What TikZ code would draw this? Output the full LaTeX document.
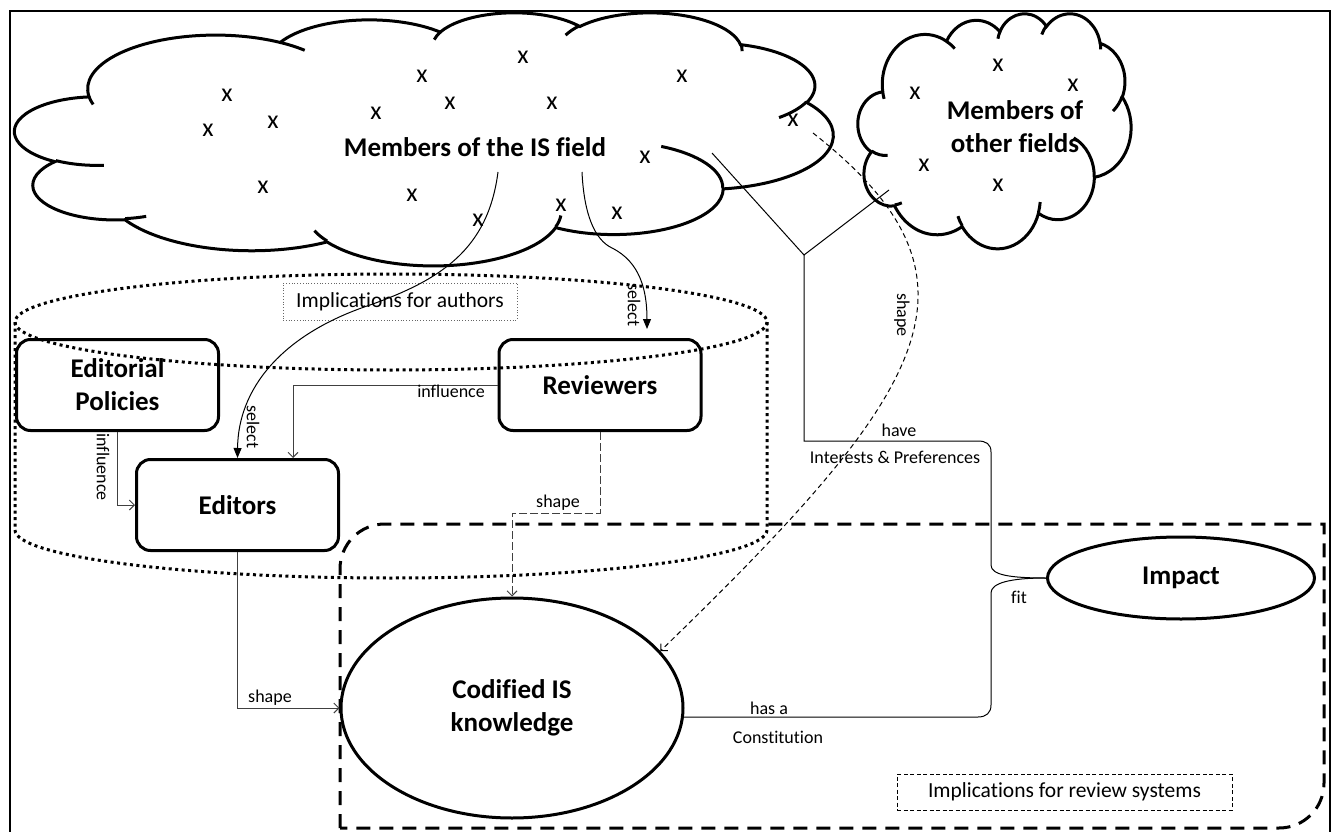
\documentclass[tikz,border=0pt]{standalone}
\usepackage{fontspec}
\setmainfont{Carlito}[Ligatures=NoCommon]
\usetikzlibrary{arrows.meta,shapes.geometric,calc}

\newcommand\nodefont{\fontsize{27}{33}\selectfont\bfseries}
\newcommand\lblfont{\fontsize{18}{21}\selectfont}
\newcommand\tagfont{\fontsize{21.5}{25}\selectfont}
\newcommand\xfont{\fontsize{26}{30}\selectfont}
% one lobe of the cloud outline (radii, start and sweep as seen angles)
\newcommand\cloudarc[4]{arc[x radius=#1, y radius=#2,
  start angle={atan2(#1*sin(#3),#2*cos(#3))},
  delta angle={mod(atan2(#1*sin(#3+#4),#2*cos(#3+#4))-atan2(#1*sin(#3),#2*cos(#3))+540,360)-180}]}

\tikzset{
  box/.style={draw, line width=3pt, rounded corners=14pt, minimum width=202pt,
    minimum height=91pt, align=center, font=\nodefont},
  oval/.style={draw, ellipse, line width=3pt, align=center, font=\nodefont, inner sep=0pt},
  lbl/.style={font=\lblfont, inner sep=1pt},
  tagbox/.style={draw, line width=0.8pt, font=\tagfont, inner sep=0pt},
  xmark/.style={font=\xfont, inner sep=0pt},
  cloudline/.style={line width=3pt},
  conn/.style={line width=1pt},
  grayconn/.style={line width=1pt, black!75},
  openarrow/.style={-{Straight Barb[length=5pt,width=10pt]}},
  selarrow/.style={conn, -{Triangle[length=10pt,width=8pt]}},
  dotline/.style={line width=3pt, dash pattern=on 3pt off 3.5pt},
  dashline/.style={line width=3pt, dash pattern=on 14pt off 9pt},
}

\begin{document}
\begin{tikzpicture}[x=1pt, y=-1pt]
  \useasboundingbox (0,0) rectangle (1334,832);
  \draw[line width=2pt] (10,11) rectangle (1330,845);

  % the two clouds
  \foreach \cx/\cy/\cw/\ch in {15/12/818/253, 858/13/273/235}{
    \begin{scope}[shift={(\cx,\cy)}, xscale=\cw/432, yscale=\ch/432]
      \draw[cloudline] (39.00,143.70)
        \cloudarc{67.53}{91.90}{-190.4875}{123.7805}
        \cloudarc{53.33}{72.67}{-144.1024}{89.9452}
        \cloudarc{43.65}{59.45}{-145.8079}{99.7230}
        \cloudarc{48.57}{65.95}{-130.9861}{117.2417}
        \cloudarc{53.33}{72.73}{-78.7089}{109.0269}
        \cloudarc{67.75}{92.20}{-46.2673}{130.2690}
        \cloudarc{57.85}{78.67}{0.6250}{114.0333}
        \cloudarc{67.52}{92.15}{22.4516}{115.1726}
        \cloudarc{77.20}{105.43}{66.2426}{75.7110}
        \cloudarc{43.60}{59.18}{-274.9421}{146.7356}
        \cloudarc{43.45}{59.45}{-246.8285}{152.5189} -- cycle;
      \draw[cloudline]
        (46.93,261.77) \cloudarc{43.45}{59.45}{86.7420}{26.4295}
        (69.28,348.99) \cloudarc{43.60}{59.18}{73.6105}{11.4475}
        (164.78,390.90) \cloudarc{67.52}{92.15}{137.6242}{14.0811}
        (288.27,347.51) \cloudarc{67.52}{92.15}{6.4533}{15.9984}
        (341.29,229.54) \cloudarc{57.85}{78.67}{-70.2924}{70.9174}
        (417.98,153.54) \cloudarc{53.33}{72.73}{30.3180}{27.7515}
        (383.24,54.26) \cloudarc{48.57}{65.95}{-13.7443}{14.8589}
        (290.78,39.52) \cloudarc{48.57}{65.95}{-149.1815}{18.1954}
        (221.41,47.20) \cloudarc{43.65}{59.45}{-163.4943}{17.6864}
        (140.00,51.92) \cloudarc{67.53}{91.90}{-66.7070}{12.3194}
        (41.27,157.89) \cloudarc{67.53}{91.90}{157.6544}{11.8582};
    \end{scope}
  }
  \node[font=\nodefont] (isfield) at (475,147) {Members of the IS field};
  \node[font=\nodefont, align=center] (otherfield) at (1015,127) {Members of\\other fields};
  \foreach \mx/\my [count=\i] in {227/95, 208/130, 273/122, 263/187, 376/113, 422/76,
      412/195, 450/103, 523/57, 552/103, 682/76, 793/120, 645/157, 478/220, 561/205,
      617/213, 998/65, 915/93, 1073/85, 924/165, 998/185}
    \node[xmark] (xm\i) at (\mx,\my) {x};

  % boxes and ovals
  \node[box] (epol) at (117.5,385) {Editorial\\Policies};
  \node[box] (editors) at (237.5,505) {Editors};
  \node[box] (reviewers) at (600,385) {Reviewers};
  \node[oval, minimum width=342pt, minimum height=220pt] (codified) at (512,708) {Codified IS\\knowledge};
  \node[oval, minimum width=267pt, minimum height=82pt] (impact) at (1181,578) {Impact};

  % implications for authors
  \draw[dotline] (391,322) ellipse[x radius=376, y radius=48];
  \draw[dotline] (15,322) -- (15,530) arc[start angle=180, end angle=0, x radius=376, y radius=48] -- (767,322);
  \node[tagbox, dotted, draw=black!60, minimum width=234pt, minimum height=37pt] (authtag) at (400,301.5) {Implications for authors};

  % implications for review systems
  \draw[dashline] (340,828) -- (340,569) .. controls (340,544) and (360,524) .. (385,524)
    -- (1324,524) -- (1324,783) .. controls (1324,808) and (1304,828) .. (1279,828) -- cycle;
  \node[tagbox, dash pattern=on 4pt off 2.5pt, minimum width=335pt, minimum height=36pt] (revtag) at (1064.5,792) {Implications for review systems};

  % connectors
  \coordinate (s1) at (498,172);
  \coordinate (s2) at (582,172);
  \coordinate (h1) at (712,153);
  \coordinate (h2) at (889,190);
  \coordinate (hj) at (804,255);
  \coordinate (o1) at (813,133);

  \draw[selarrow] (s1) .. controls (488,250) and (440,280) .. (370,305)
    .. controls (280,335) and (238,390) .. (editors.north);
  \node[lbl, rotate=-90] (sel1) at (253,427) {select};
  \draw[selarrow] (s2) .. controls (584,215) and (595,240) .. (612,248)
    .. controls (640,262) and (647,290) .. ([xshift=47pt, yshift=9pt]reviewers.north);
  \node[lbl, rotate=-90] (sel2) at (634,305) {select};

  \draw[grayconn, openarrow] (reviewers.west) -| ([xshift=55.5pt]editors.north);
  \node[lbl, anchor=north east] (infl1) at (486,384) {influence};
  \draw[grayconn, openarrow] (epol.south) |- (editors.west);
  \node[lbl, rotate=-90] (infl2) at (103,467) {influence};

  \draw[grayconn, openarrow] (editors.south) |- (codified.west);
  \node[lbl] (shp1) at (270,698) {shape};
  \draw[grayconn, dash pattern=on 8pt off 3pt, openarrow] (reviewers.south) -- ++(0,81) -| (codified.north);
  \node[lbl] (shp2) at (558,503) {shape};
  \draw[conn, dash pattern=on 5pt off 3.5pt, openarrow] (o1) .. controls (1000,280) and (930,390) .. (codified.21);
  \node[lbl, rotate=-90] (shp3) at (902,315) {shape};

  \draw[conn] (h1) -- (hj) -- (h2);
  \draw[conn] (hj) -- (804,441) -- (978,441) .. controls (986,441) and (991,444) .. (991,452)
    -- (991,565) .. controls (991,575) and (1010,578) .. (impact.west);
  \draw[conn] (impact.west) .. controls (1010,578) and (991,583) .. (991,593)
    -- (991,705) .. controls (991,713) and (986,717) .. (978,717) -- (codified.-3);
  \node[lbl] (have) at (899,430) {have};
  \node[lbl] (interests) at (895,457) {Interests \& Preferences};
  \node[lbl] (fit) at (1019,597) {fit};
  \node[lbl] (hasa) at (769,708) {has a};
  \node[lbl] (constit) at (778,737) {Constitution};
\end{tikzpicture}
\end{document}
